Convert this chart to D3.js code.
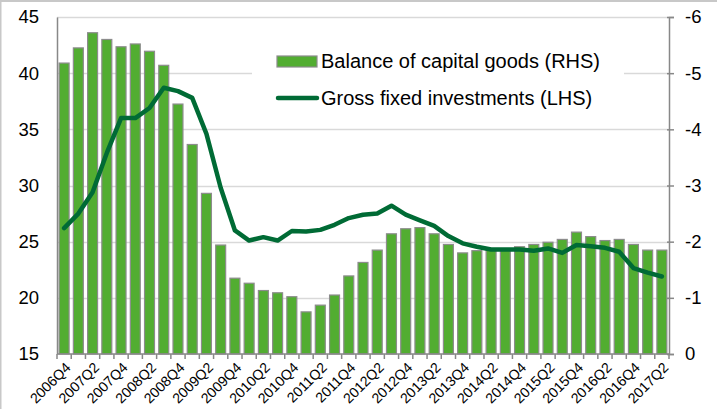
<!DOCTYPE html>
<html>
<head>
<meta charset="utf-8">
<script src="https://cdn.jsdelivr.net/npm/d3@7"></script>
<style>
  html, body { margin: 0; padding: 0; background: #fff; }
  svg { display: block; font-family: "Liberation Sans", Arial, sans-serif; }
</style>
</head>
<body>
<svg id="chart" width="717" height="409"></svg>
<script>
// Quarterly categories
const quarters = [
  "2006Q4",
  "2007Q1","2007Q2","2007Q3","2007Q4",
  "2008Q1","2008Q2","2008Q3","2008Q4",
  "2009Q1","2009Q2","2009Q3","2009Q4",
  "2010Q1","2010Q2","2010Q3","2010Q4",
  "2011Q1","2011Q2","2011Q3","2011Q4",
  "2012Q1","2012Q2","2012Q3","2012Q4",
  "2013Q1","2013Q2","2013Q3","2013Q4",
  "2014Q1","2014Q2","2014Q3","2014Q4",
  "2015Q1","2015Q2","2015Q3","2015Q4",
  "2016Q1","2016Q2","2016Q3","2016Q4",
  "2017Q1","2017Q2"
];

// Balance of capital goods (right-hand axis)
const capitalGoodsBalance = [
  -5.18,
  -5.45, -5.72, -5.60, -5.47,
  -5.52, -5.39, -5.14, -4.45,
  -3.73, -2.86, -1.94, -1.35,
  -1.26, -1.13, -1.09, -1.02,
  -0.75, -0.87, -1.05, -1.39,
  -1.63, -1.85, -2.14, -2.23,
  -2.25, -2.14, -1.95, -1.80,
  -1.84, -1.86, -1.86, -1.91,
  -1.95, -1.99, -2.04, -2.17,
  -2.09, -2.02, -2.04, -1.95,
  -1.85, -1.85
];

// Gross fixed investments (left-hand axis)
const grossFixedInvestments = [
  26.2,
  27.5, 29.4, 32.9, 36.0,
  36.0, 36.9, 38.7, 38.4,
  37.8, 34.6, 29.8, 26.0,
  25.1, 25.4, 25.1, 25.95,
  25.9, 26.05, 26.5, 27.1,
  27.4, 27.5, 28.2, 27.4,
  26.9, 26.4, 25.5, 24.85,
  24.55, 24.3, 24.3, 24.3,
  24.2, 24.4, 24.0, 24.7,
  24.6, 24.45, 24.1, 22.65,
  22.25, 21.9
];

const leftTicks = [15, 20, 25, 30, 35, 40, 45];
const rightTicks = [0, -1, -2, -3, -4, -5, -6];

const seriesNames = {
  bars: "Balance of capital goods (RHS)",
  line: "Gross fixed investments (LHS)"
};

const W = 717, H = 409;
const m = { top: 17, right: 48, bottom: 55, left: 57 };
const x0 = m.left, x1 = W - m.right, yTop = m.top, yBot = H - m.bottom;

const svg = d3.select("#chart");

// frame edges along the top and left
svg.append("line")
  .attr("x1", 0).attr("x2", W).attr("y1", 1).attr("y2", 1)
  .attr("stroke", "#c8c8c8").attr("stroke-width", 2);
svg.append("line")
  .attr("x1", 0.75).attr("x2", 0.75).attr("y1", 0).attr("y2", H)
  .attr("stroke", "#c8c8c8").attr("stroke-width", 1.5);

const x = d3.scaleBand()
  .domain(quarters)
  .range([x0, x1])
  .paddingInner(0.3)
  .paddingOuter(0.15);

const yL = d3.scaleLinear().domain([15, 45]).range([yBot, yTop]);
const yR = d3.scaleLinear().domain([0, -6]).range([yBot, yTop]);

// horizontal gridlines
svg.append("g")
  .selectAll("line")
  .data(leftTicks.filter(d => d !== 15))
  .join("line")
  .attr("x1", x0).attr("x2", x1)
  .attr("y1", d => Math.round(yL(d)) + 0.5)
  .attr("y2", d => Math.round(yL(d)) + 0.5)
  .attr("stroke", "#d9d9d9")
  .attr("stroke-width", 1.5);

// bars
svg.append("g")
  .selectAll("rect")
  .data(quarters.map((q, i) => ({ q, v: capitalGoodsBalance[i] })))
  .join("rect")
  .attr("x", d => x(d.q))
  .attr("width", x.bandwidth())
  .attr("y", d => yR(d.v))
  .attr("height", d => yR(0) - yR(d.v))
  .attr("fill", "#52ad31")
  .attr("stroke", "#8c8c8c")
  .attr("stroke-width", 1.2);

// line
const line = d3.line()
  .x((d, i) => x(quarters[i]) + x.bandwidth() / 2)
  .y(d => yL(d));

svg.append("path")
  .datum(grossFixedInvestments)
  .attr("d", line)
  .attr("fill", "none")
  .attr("stroke", "#006b35")
  .attr("stroke-width", 4.5)
  .attr("stroke-linejoin", "round")
  .attr("stroke-linecap", "round");

// left axis
const axL = svg.append("g")
  .attr("transform", `translate(${x0},0)`)
  .call(d3.axisLeft(yL).tickValues(leftTicks).tickSize(0).tickPadding(18).tickFormat(d => String(d)));
axL.select(".domain").attr("stroke", "#888").attr("stroke-width", 1.5);
axL.selectAll("text").attr("font-size", 18.5).attr("fill", "#000")
  .attr("font-family", "Liberation Sans, Arial, sans-serif");

// right axis
const axR = svg.append("g")
  .attr("transform", `translate(${x1},0)`)
  .call(d3.axisRight(yR).tickValues(rightTicks).tickSize(5).tickPadding(11).tickFormat(d => String(d)));
axR.select(".domain").attr("stroke", "#888").attr("stroke-width", 1.5);
axR.selectAll(".tick line").attr("stroke", "#888").attr("stroke-width", 1.5).attr("x1", -2);
axR.selectAll("text").attr("font-size", 18.5).attr("fill", "#000")
  .attr("font-family", "Liberation Sans, Arial, sans-serif");

// bottom axis: ticks at category boundaries, labels every second quarter
const gB = svg.append("g");
gB.append("line")
  .attr("x1", x0).attr("x2", x1)
  .attr("y1", yBot).attr("y2", yBot)
  .attr("stroke", "#888").attr("stroke-width", 1.5);
const boundaries = quarters.map(q => x(q) - x.step() * x.paddingInner() / 2);
boundaries.push(x1);
gB.selectAll("line.tick")
  .data(boundaries)
  .join("line")
  .attr("class", "tick")
  .attr("x1", d => d).attr("x2", d => d)
  .attr("y1", yBot).attr("y2", yBot + 5)
  .attr("stroke", "#888").attr("stroke-width", 1.5);
gB.selectAll("text")
  .data(quarters.filter((q, i) => i % 2 === 0))
  .join("text")
  .attr("transform", q => `translate(${x(q) + x.bandwidth() / 2 + 4},${yBot + 11}) rotate(-45)`)
  .attr("text-anchor", "end")
  .attr("dy", "0.35em")
  .attr("font-size", 14.2)
  .attr("fill", "#000")
  .text(q => q);

// legend
const lg = svg.append("g");
lg.append("rect")
  .attr("x", 252).attr("y", 38).attr("width", 372).attr("height", 82)
  .attr("fill", "#fff");
lg.append("rect")
  .attr("x", 277).attr("y", 56).attr("width", 40).attr("height", 11)
  .attr("fill", "#52ad31").attr("stroke", "#8c8c8c").attr("stroke-width", 1.2);
lg.append("text")
  .attr("x", 321).attr("y", 68)
  .attr("font-size", 20).attr("fill", "#000")
  .text(seriesNames.bars);
lg.append("line")
  .attr("x1", 278).attr("x2", 317).attr("y1", 98).attr("y2", 98)
  .attr("stroke", "#006b35").attr("stroke-width", 4.5).attr("stroke-linecap", "round");
lg.append("text")
  .attr("x", 321).attr("y", 105)
  .attr("font-size", 20).attr("fill", "#000")
  .text(seriesNames.line);
</script>
</body>
</html>
